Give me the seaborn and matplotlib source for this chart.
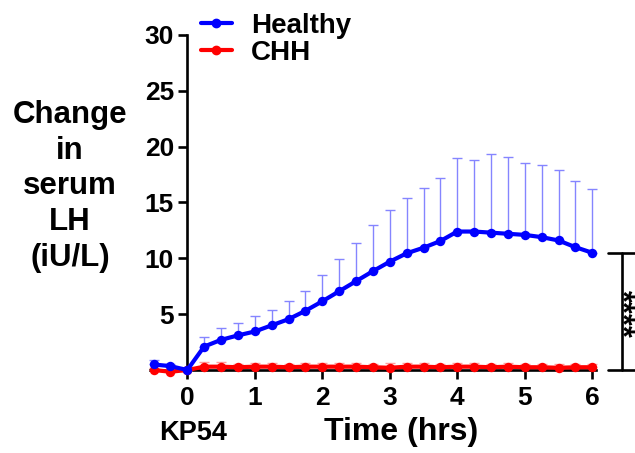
import numpy as np
import pandas as pd
import matplotlib
matplotlib.use("Agg")
import matplotlib.pyplot as plt
import seaborn as sns
from matplotlib.lines import Line2D

# ---- data ----
time_hrs = [-0.5, -0.25, 0, 0.25, 0.5, 0.75, 1.0, 1.25, 1.5, 1.75, 2.0, 2.25, 2.5,
            2.75, 3.0, 3.25, 3.5, 3.75, 4.0, 4.25, 4.5, 4.75, 5.0, 5.25, 5.5, 5.75, 6.0]
healthy_mean = [0.5, 0.35, 0.0, 2.1, 2.7, 3.1, 3.45, 4.0, 4.55, 5.3, 6.15, 7.05, 7.95,
                8.85, 9.7, 10.45, 10.95, 11.55, 12.4, 12.4, 12.3, 12.2, 12.1, 11.9, 11.6, 11.0, 10.5]
healthy_sem = [0.4, 0.15, 0.0, 0.9, 1.1, 1.15, 1.35, 1.4, 1.65, 1.8, 2.4, 2.9, 3.45,
               4.15, 4.6, 4.95, 5.35, 5.65, 6.6, 6.4, 7.0, 6.85, 6.4, 6.5, 6.3, 5.9, 5.7]
chh_mean = [0.0, -0.15, 0.0, 0.3, 0.3, 0.25, 0.3, 0.3, 0.25, 0.3, 0.3, 0.3, 0.3,
            0.25, 0.2, 0.3, 0.3, 0.25, 0.3, 0.3, 0.25, 0.3, 0.25, 0.25, 0.2, 0.25, 0.25]
chh_sem = [0.2, 0.2, 0.0, 0.4, 0.45, 0.3, 0.3, 0.3, 0.3, 0.3, 0.3, 0.3, 0.3,
           0.3, 0.4, 0.35, 0.35, 0.3, 0.35, 0.35, 0.3, 0.3, 0.3, 0.3, 0.3, 0.3, 0.3]
groups = ["Healthy", "CHH"]
colors = {"Healthy": "#0000ff", "CHH": "#ff0000"}
err_colors = {"Healthy": "#8585ff", "CHH": "#ff9c9c"}
x_ticks = [0, 1, 2, 3, 4, 5, 6]
y_ticks = [0, 5, 10, 15, 20, 25, 30]
y_ticklabels = ["", "5", "10", "15", "20", "25", "30"]
sig_label = "****"

df = pd.DataFrame({
    "time": time_hrs * 2,
    "value": healthy_mean + chh_mean,
    "err": healthy_sem + chh_sem,
    "group": ["Healthy"] * len(time_hrs) + ["CHH"] * len(time_hrs),
})

sns.set_style("white")
plt.rcParams["font.family"] = ["Liberation Sans", "DejaVu Sans"]
plt.rcParams["font.weight"] = "bold"
plt.rcParams["text.color"] = "black"
plt.rcParams["xtick.color"] = "black"
plt.rcParams["ytick.color"] = "black"
plt.rcParams["axes.labelcolor"] = "black"
plt.rcParams["mathtext.fontset"] = "custom"
plt.rcParams["mathtext.rm"] = "Liberation Sans:bold"
plt.rcParams["mathtext.bf"] = "Liberation Sans:bold"

fig = plt.figure(figsize=(6.35, 4.53), dpi=100)
ax = fig.add_axes([140 / 635, (453 - 381.2) / 453, 472.5 / 635, 357.4 / 453])

# error bars (upper only)
for g in ["CHH", "Healthy"]:
    sub = df[df["group"] == g]
    ax.errorbar(sub["time"], sub["value"],
                yerr=[np.zeros(len(sub)), sub["err"].to_numpy()],
                fmt="none", ecolor=err_colors[g], elinewidth=1.0, capsize=3.3,
                capthick=1.0, zorder=2, clip_on=False)

sns.lineplot(data=df, x="time", y="value", hue="group", hue_order=["CHH", "Healthy"],
             palette=colors, marker="o", markersize=6.8, markeredgewidth=0,
             linewidth=3, ax=ax, legend=False, zorder=3, clip_on=False)

ax.set_xlim(-0.7, 6.3)
ax.set_ylim(-1, 31)
for s in ["top", "right"]:
    ax.spines[s].set_visible(False)
ax.spines["left"].set_position(("data", 0))
ax.spines["bottom"].set_position(("data", 0))
ax.spines["left"].set_bounds(0, 30)
ax.spines["bottom"].set_bounds(-0.55, 6.05)
for s in ["left", "bottom"]:
    ax.spines[s].set_linewidth(1.9)
    ax.spines[s].set_color("black")
    ax.spines[s].set_zorder(1)

ax.set_xticks(x_ticks)
ax.set_xticklabels([str(t) for t in x_ticks])
ax.set_yticks(y_ticks)
ax.set_yticklabels(y_ticklabels)
ax.tick_params(axis="both", direction="out", length=6.5, width=1.9, color="black",
               labelcolor="black", labelsize=19, pad=3)
ax.tick_params(axis="x", pad=5)
ax.tick_params(axis="y", left=True)
ax.tick_params(axis="x", bottom=True)
for lab in ax.get_xticklabels() + ax.get_yticklabels():
    lab.set_fontweight("bold")
ax.set_xlabel("")
ax.set_ylabel("")

# significance bracket
bx = 6.44
ax.plot([bx, bx], [0, healthy_mean[-1]], color="black", lw=1.9, clip_on=False)
ax.plot([bx - 0.2, bx + 0.25], [healthy_mean[-1]] * 2, color="black", lw=1.9, clip_on=False)
ax.plot([bx - 0.2, bx + 0.25], [0, 0], color="black", lw=1.9, clip_on=False)
star_math = "$" + "".join("{" + c + "}" for c in sig_label) + "$"
fig.text(621.5 / 635, 1 - 314 / 453, star_math, rotation=270, ha="center",
         va="center", fontsize=22, color="black")

# legend
handles = [Line2D([0], [0], color=colors[g], lw=3, marker="o", markersize=6) for g in groups]
leg = fig.legend(handles, groups, loc="upper left", bbox_to_anchor=(176 / 635, 1 + 12 / 453),
                 frameon=False, handlelength=1.1, handletextpad=0.7,
                 labelspacing=0.02, prop={"weight": "bold", "size": 20})
for t in leg.get_texts():
    t.set_color("black")

# labels
fig.text(70 / 635, 1 - 186.5 / 453, "Change\nin\nserum\nLH\n(iU/L)", ha="center",
         va="center", fontsize=22.5, fontweight="bold", linespacing=1.25, color="black")
fig.text(401 / 635, 1 - 432 / 453, "Time (hrs)", ha="center", va="center",
         fontsize=23, fontweight="bold", color="black")
fig.text(193 / 635, 1 - 433 / 453, "KP54", ha="center", va="center",
         fontsize=19.5, fontweight="bold", color="black")

fig.savefig("out.png", dpi=100)
